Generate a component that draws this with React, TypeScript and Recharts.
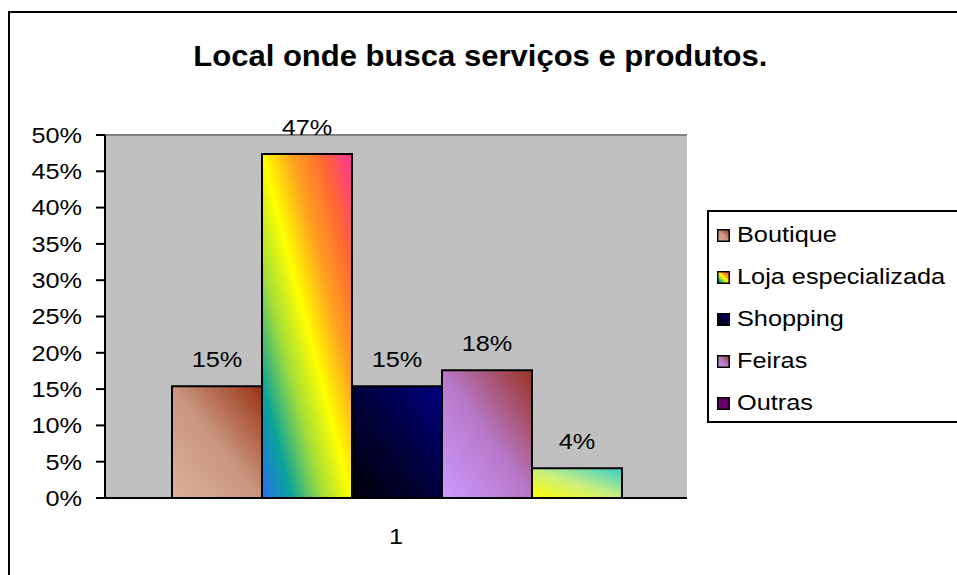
import { BarChart, Bar, XAxis, YAxis, LabelList, ReferenceLine, CartesianGrid } from 'recharts'

const TITLE = 'Local onde busca serviços e produtos.'
const CATEGORIES = ['1']
const SERIES = ['Boutique', 'Loja especializada', 'Shopping', 'Feiras', 'Outras']
const VALUES = [15.4, 47.4, 15.4, 17.6, 4.1]
const Y_TICKS = [0, 5, 10, 15, 20, 25, 30, 35, 40, 45, 50]

// gradient stops per series (bottom-left -> top-right)
const GRADIENTS: string[][] = [
    ['#dcb09a', '#c9957f', '#993311'],
    ['#2a6cf5', '#0aa39a', '#9fdc3c', '#ffff00', '#ffa020', '#ff6633', '#ff3399'],
    ['#000008', '#00003c', '#000080'],
    ['#cc99ff', '#b878c8', '#993322'],
    ['#ffff00', '#c8ee80', '#33cccc'],
]
// legend swatches (Outras shows plain purple in the key)
const LEGEND_FILLS = ['url(#g0)', 'url(#g1)', 'url(#g2)', 'url(#g3)', '#660066']

const FONT = '"Liberation Sans", Arial, sans-serif'
const STRETCH = 1.15 // the original text is a bit wider than it is tall

const chartData = CATEGORIES.map((c) => {
    const row: Record<string, string | number> = { name: c }
    SERIES.forEach((s, i) => { row[s] = VALUES[i] })
    return row
})

function StretchedText({ x, y, text, anchor, dy }: { x: number; y: number; text: string; anchor: string; dy: string }) {
    return (
        <g transform={`translate(${x},${y}) scale(${STRETCH},1)`}>
            <text x={0} y={0} dy={dy} textAnchor={anchor as any} fill="#000" fontSize={22} fontFamily={FONT}>{text}</text>
        </g>
    )
}

function YTick(props: any) {
    const { x, y, payload } = props
    return <StretchedText x={x} y={y} text={`${payload.value}%`} anchor="end" dy="0.355em" />
}

function XTick(props: any) {
    const { x, y, payload } = props
    return <StretchedText x={x} y={y} text={String(payload.value)} anchor="middle" dy="0.71em" />
}

function TopLabel(props: any) {
    const { x, y, width, value } = props
    return <StretchedText x={x + width / 2} y={y - 19} text={`${Math.round(Number(value))}%`} anchor="middle" dy="0" />
}

function LegendBox() {
    return (
        <div style={{
            position: 'absolute', left: 707, top: 210,
            width: 260, height: 213, border: '2px solid #000', boxSizing: 'border-box',
            background: '#fff', fontFamily: FONT, fontSize: 22, color: '#000', paddingTop: 2,
        }}>
            {SERIES.map((s, i) => (
                <div key={s} style={{ display: 'flex', alignItems: 'center', height: 42 }}>
                    <svg width={13} height={13} style={{ marginLeft: 8, marginRight: 7 }}>
                        <rect x={0.75} y={0.75} width={11.5} height={11.5} fill={LEGEND_FILLS[i]} stroke="#000" strokeWidth={1.5} />
                    </svg>
                    <span style={{ display: 'inline-block', transform: `scaleX(${STRETCH})`, transformOrigin: 'left center', whiteSpace: 'nowrap' }}>{s}</span>
                </div>
            ))}
        </div>
    )
}

export default function App() {
    return (
        <div style={{ position: 'absolute', left: 0, top: 0, width: 957, height: 575, overflow: 'hidden', background: '#fff' }}>
            <svg width={0} height={0} style={{ position: 'absolute' }}>
                <defs>
                    {GRADIENTS.map((stops, i) => (
                        <linearGradient key={i} id={`g${i}`} x1="0" y1="1" x2="1" y2="0">
                            {stops.map((c, j) => (
                                <stop key={j} offset={j / (stops.length - 1)} stopColor={c} />
                            ))}
                        </linearGradient>
                    ))}
                </defs>
            </svg>
            <div style={{
                position: 'absolute', left: 8, top: 11, width: 1000, height: 600,
                borderLeft: '2px solid #000', borderTop: '2px solid #000',
            }} />
            <div style={{
                position: 'absolute', left: 0, top: 40, width: 957, textAlign: 'center',
                fontFamily: FONT, fontWeight: 'bold', fontSize: 29, color: '#000',
            }}>
                <span style={{ display: 'inline-block', position: 'relative', left: 2, transform: 'scaleX(1.07)' }}>{TITLE}</span>
            </div>
            <div style={{ position: 'absolute', left: 0, top: 0 }}>
                <BarChart
                    width={957}
                    height={575}
                    data={chartData}
                    margin={{ top: 135, right: 270, bottom: 37, left: 40 }}
                    barCategoryGap={67}
                    barGap={0}
                >
                    <CartesianGrid horizontal={false} vertical={false} fill="#c0c0c0" />
                    <XAxis
                        xAxisId="edge"
                        type="number"
                        domain={[0, 1]}
                        ticks={[0, 1]}
                        tick={false}
                        axisLine={false}
                        tickLine={{ stroke: '#000', strokeWidth: 2 }}
                        tickSize={9}
                        height={0}
                    />
                    <XAxis
                        dataKey="name"
                        axisLine={{ stroke: '#000', strokeWidth: 2 }}
                        tickLine={false}
                        tickSize={0}
                        tickMargin={30}
                        height={40}
                        tick={<XTick />}
                    />
                    <YAxis
                        domain={[0, 50]}
                        ticks={Y_TICKS}
                        interval={0}
                        width={65}
                        axisLine={{ stroke: '#000', strokeWidth: 2 }}
                        tickLine={{ stroke: '#000', strokeWidth: 2 }}
                        tickSize={9}
                        tickMargin={14}
                        tick={<YTick />}
                    />
                    <YAxis
                        yAxisId="r"
                        orientation="right"
                        domain={[0, 50]}
                        width={0}
                        tick={false}
                        tickLine={false}
                        axisLine={{ stroke: '#808080', strokeWidth: 2 }}
                    />
                    <ReferenceLine y={50} stroke="#808080" strokeWidth={2} />
                    {SERIES.map((s, i) => (
                        <Bar key={s} dataKey={s} fill={`url(#g${i})`} stroke="#000" strokeWidth={2} isAnimationActive={false}>
                            <LabelList dataKey={s} content={<TopLabel />} />
                        </Bar>
                    ))}
                </BarChart>
            </div>
            <LegendBox />
        </div>
    )
}
